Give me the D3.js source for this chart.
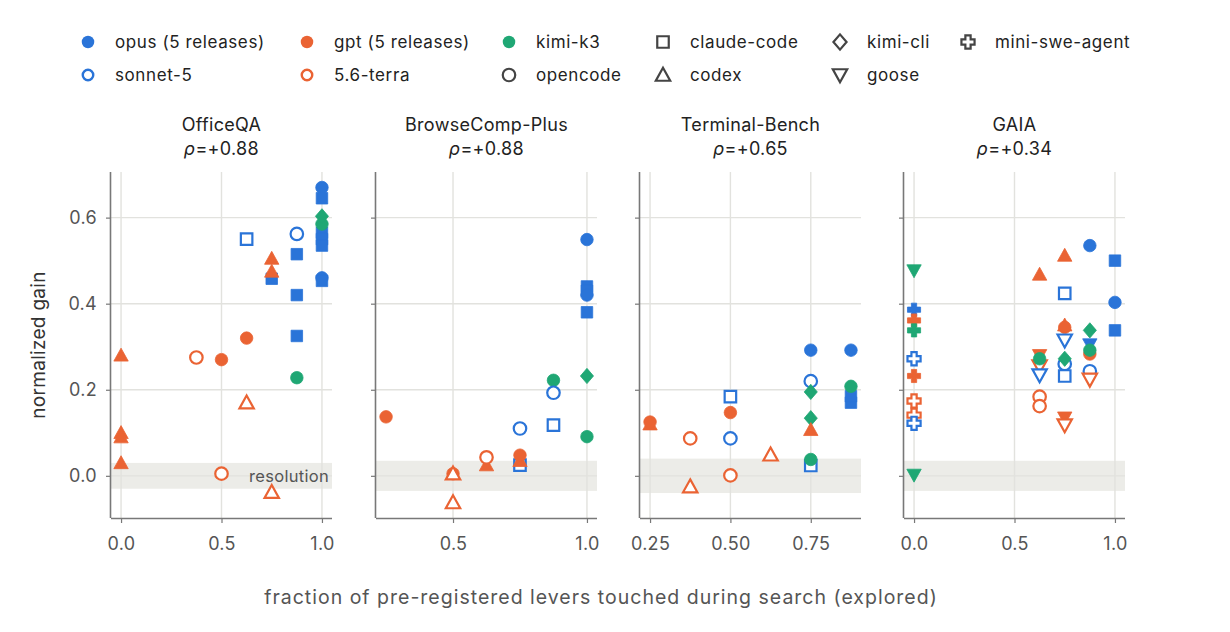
<!DOCTYPE html>
<html>
<head>
<meta charset="utf-8">
<script src="https://cdn.jsdelivr.net/npm/d3@7"></script>
<style>
  html, body { margin: 0; padding: 0; background: #ffffff; }
  svg { display: block; font-family: "Inter", "DejaVu Sans", sans-serif; }
</style>
</head>
<body>
<svg id="chart" width="1230" height="632"></svg>
<script>
// ---------------- DATA ----------------
const benchmarks = ["OfficeQA", "BrowseComp-Plus", "Terminal-Bench", "GAIA"];
const rhoValues = ["+0.88", "+0.88", "+0.65", "+0.34"];
const xTickValues = [[0, 0.5, 1.0], [0.5, 1.0], [0.25, 0.5, 0.75], [0, 0.5, 1.0]];
const xTickLabels = [["0.0", "0.5", "1.0"], ["0.5", "1.0"], ["0.25", "0.50", "0.75"], ["0.0", "0.5", "1.0"]];
const yTickValues = [0.0, 0.2, 0.4, 0.6];
const yTickLabels = ["0.0", "0.2", "0.4", "0.6"];
const resolutionBand = [0.03, 0.035, 0.04, 0.035];

const models = ["opus", "sonnet-5", "gpt", "5.6-terra", "kimi-k3"];
const modelLabels = ["opus (5 releases)", "sonnet-5", "gpt (5 releases)", "5.6-terra", "kimi-k3"];
const harnesses = ["claude-code", "opencode", "codex", "kimi-cli", "goose", "mini-swe-agent"];

// [model, harness, explored fraction, normalized gain]
const officeQA = [
  ["gpt", "codex", 0, 0.28], ["gpt", "codex", 0, 0.10], ["gpt", "codex", 0, 0.09], ["gpt", "codex", 0, 0.03],
  ["5.6-terra", "opencode", 0.375, 0.275], ["gpt", "opencode", 0.5, 0.27], ["5.6-terra", "opencode", 0.5, 0.005],
  ["gpt", "opencode", 0.625, 0.32], ["5.6-terra", "codex", 0.625, 0.17], ["sonnet-5", "claude-code", 0.625, 0.55],
  ["opus", "claude-code", 0.75, 0.458], ["gpt", "codex", 0.75, 0.505], ["gpt", "codex", 0.75, 0.475],
  ["5.6-terra", "codex", 0.75, -0.038],
  ["opus", "claude-code", 0.875, 0.515], ["opus", "claude-code", 0.875, 0.42], ["opus", "claude-code", 0.875, 0.325],
  ["sonnet-5", "opencode", 0.875, 0.562], ["kimi-k3", "opencode", 0.875, 0.228],
  ["opus", "opencode", 1.0, 0.67], ["opus", "claude-code", 1.0, 0.645], ["opus", "claude-code", 1.0, 0.565],
  ["opus", "claude-code", 1.0, 0.55], ["opus", "claude-code", 1.0, 0.535], ["opus", "opencode", 1.0, 0.46],
  ["opus", "claude-code", 1.0, 0.453], ["kimi-k3", "opencode", 1.0, 0.585], ["kimi-k3", "kimi-cli", 1.0, 0.603]
];
const browseCompPlus = [
  ["gpt", "opencode", 0.25, 0.137], ["gpt", "opencode", 0.5, 0.005], ["5.6-terra", "codex", 0.5, 0.005],
  ["5.6-terra", "codex", 0.5, -0.062], ["gpt", "codex", 0.625, 0.025], ["5.6-terra", "opencode", 0.625, 0.043],
  ["sonnet-5", "claude-code", 0.75, 0.025], ["gpt", "codex", 0.75, 0.035], ["gpt", "opencode", 0.75, 0.048],
  ["sonnet-5", "opencode", 0.75, 0.11],
  ["kimi-k3", "opencode", 0.875, 0.222], ["sonnet-5", "opencode", 0.875, 0.193], ["sonnet-5", "claude-code", 0.875, 0.118],
  ["opus", "opencode", 1.0, 0.549], ["opus", "claude-code", 1.0, 0.44], ["opus", "claude-code", 1.0, 0.43],
  ["opus", "opencode", 1.0, 0.42], ["opus", "claude-code", 1.0, 0.38],
  ["kimi-k3", "kimi-cli", 1.0, 0.232], ["kimi-k3", "opencode", 1.0, 0.091]
];
const terminalBench = [
  ["gpt", "codex", 0.25, 0.12], ["gpt", "opencode", 0.25, 0.125],
  ["5.6-terra", "opencode", 0.375, 0.087], ["5.6-terra", "codex", 0.375, -0.025],
  ["sonnet-5", "claude-code", 0.5, 0.184], ["gpt", "opencode", 0.5, 0.147], ["sonnet-5", "opencode", 0.5, 0.087],
  ["5.6-terra", "opencode", 0.5, 0.001], ["5.6-terra", "codex", 0.625, 0.049],
  ["opus", "opencode", 0.75, 0.292], ["sonnet-5", "opencode", 0.75, 0.22], ["kimi-k3", "kimi-cli", 0.75, 0.195],
  ["kimi-k3", "kimi-cli", 0.75, 0.134], ["gpt", "codex", 0.75, 0.107], ["sonnet-5", "claude-code", 0.75, 0.024],
  ["kimi-k3", "opencode", 0.75, 0.038],
  ["opus", "claude-code", 0.875, 0.17], ["opus", "claude-code", 0.875, 0.185], ["kimi-k3", "opencode", 0.875, 0.208],
  ["opus", "opencode", 0.875, 0.292]
];
const gaia = [
  ["kimi-k3", "goose", 0, 0.477], ["opus", "mini-swe-agent", 0, 0.386], ["gpt", "mini-swe-agent", 0, 0.361],
  ["kimi-k3", "mini-swe-agent", 0, 0.338], ["sonnet-5", "mini-swe-agent", 0, 0.272], ["gpt", "mini-swe-agent", 0, 0.232],
  ["5.6-terra", "mini-swe-agent", 0, 0.174], ["5.6-terra", "mini-swe-agent", 0, 0.141],
  ["sonnet-5", "mini-swe-agent", 0, 0.122], ["kimi-k3", "goose", 0, 0.002],
  ["gpt", "codex", 0.625, 0.468], ["gpt", "goose", 0.625, 0.28], ["5.6-terra", "goose", 0.625, 0.255],
  ["sonnet-5", "goose", 0.625, 0.234], ["kimi-k3", "opencode", 0.625, 0.272],
  ["5.6-terra", "opencode", 0.625, 0.184], ["5.6-terra", "opencode", 0.625, 0.162],
  ["gpt", "codex", 0.75, 0.512], ["sonnet-5", "claude-code", 0.75, 0.424], ["gpt", "codex", 0.75, 0.35],
  ["gpt", "opencode", 0.75, 0.345], ["sonnet-5", "goose", 0.75, 0.315], ["sonnet-5", "opencode", 0.75, 0.26],
  ["kimi-k3", "kimi-cli", 0.75, 0.272], ["sonnet-5", "claude-code", 0.75, 0.232],
  ["gpt", "goose", 0.75, 0.135], ["5.6-terra", "goose", 0.75, 0.118],
  ["opus", "opencode", 0.875, 0.535], ["kimi-k3", "kimi-cli", 0.875, 0.338], ["opus", "goose", 0.875, 0.305],
  ["gpt", "opencode", 0.875, 0.283], ["kimi-k3", "opencode", 0.875, 0.292], ["sonnet-5", "opencode", 0.875, 0.243],
  ["5.6-terra", "goose", 0.875, 0.224],
  ["opus", "claude-code", 1.0, 0.5], ["opus", "opencode", 1.0, 0.403], ["opus", "claude-code", 1.0, 0.338]
];
const panelData = [officeQA, browseCompPlus, terminalBench, gaia];

// ---------------- STYLE ----------------
const modelColor = {"opus": "#2a74d8", "sonnet-5": "#2a74d8", "gpt": "#ea6333", "5.6-terra": "#ea6333", "kimi-k3": "#1fa774"};
const modelOpen = {"opus": false, "sonnet-5": true, "gpt": false, "5.6-terra": true, "kimi-k3": false};

function shapePath(h, s) {
  const r = s / 2;
  switch (h) {
    case "opencode": {
      const p = d3.path(); p.arc(0, 0, r, 0, 2 * Math.PI); p.closePath(); return p.toString();
    }
    case "claude-code": {
      const a = r * 0.92;
      return `M${-a},${-a}H${a}V${a}H${-a}Z`;
    }
    case "kimi-cli": {
      const a = r * 1.22, b = r * 1.05;
      return `M0,${-a}L${b},0L0,${a}L${-b},0Z`;
    }
    case "codex": {
      const a = r * 1.15;
      return `M0,${-a}L${a},${a * 0.8}L${-a},${a * 0.8}Z`;
    }
    case "goose": {
      const a = r * 1.15;
      return `M0,${a}L${a},${-a * 0.8}L${-a},${-a * 0.8}Z`;
    }
    case "mini-swe-agent": {
      const a = r * 1.05, t = r * 0.42;
      return `M${-t},${-a}H${t}V${-t}H${a}V${t}H${t}V${a}H${-t}V${t}H${-a}V${-t}H${-t}Z`;
    }
  }
}

// ---------------- LAYOUT ----------------
const svg = d3.select("#chart");
svg.append("rect").attr("width", 1230).attr("height", 632).attr("fill", "#ffffff");

const panelLeft = [111, 376, 640, 904];
const panelWidth = 221;
const plotTop = 172, plotBottom = 518;
const gridColor = "#e2e2de";
const spineColor = "#787878";
const tickTextColor = "#555555";

const y = d3.scaleLinear().domain([-0.098, 0.706]).range([plotBottom, plotTop]);

panelData.forEach((data, i) => {
  const xs = data.map(d => d[2]);
  const lo = d3.min(xs), hi = d3.max(xs), pad = (hi - lo) * 0.05;
  const x = d3.scaleLinear().domain([lo - pad, hi + pad]).range([panelLeft[i], panelLeft[i] + panelWidth]);
  const g = svg.append("g");

  g.append("rect")
    .attr("x", panelLeft[i]).attr("width", panelWidth)
    .attr("y", y(resolutionBand[i])).attr("height", y(-resolutionBand[i]) - y(resolutionBand[i]))
    .attr("fill", "#ecece8");

  g.selectAll(".hg").data(yTickValues).enter().append("line")
    .attr("x1", panelLeft[i]).attr("x2", panelLeft[i] + panelWidth)
    .attr("y1", d => y(d)).attr("y2", d => y(d))
    .attr("stroke", gridColor).attr("stroke-width", 1.4);
  g.selectAll(".vg").data(xTickValues[i]).enter().append("line")
    .attr("x1", d => x(d)).attr("x2", d => x(d))
    .attr("y1", plotTop).attr("y2", plotBottom)
    .attr("stroke", gridColor).attr("stroke-width", 1.4);

  if (i === 0) {
    g.append("text").attr("x", panelLeft[i] + panelWidth - 3).attr("y", y(0))
      .attr("dy", "0.35em").attr("text-anchor", "end")
      .attr("font-size", 16.5).attr("letter-spacing", 0.3).attr("fill", "#555").text("resolution");
  }

  const xAxis = d3.axisBottom(x).tickValues(xTickValues[i])
    .tickFormat((d, k) => xTickLabels[i][k]).tickSize(5).tickPadding(14);
  const gx = g.append("g").attr("transform", `translate(0,${plotBottom})`).call(xAxis);
  gx.select(".domain").attr("stroke", spineColor).attr("stroke-width", 1.6)
    .attr("d", `M${panelLeft[i]},0.5H${panelLeft[i] + panelWidth}`);
  gx.selectAll(".tick line").attr("stroke", spineColor).attr("stroke-width", 1.2);
  gx.selectAll(".tick text").attr("font-size", 18).attr("fill", tickTextColor)
    .attr("font-family", "Inter, sans-serif").attr("letter-spacing", 0.3);

  const yAxis = d3.axisLeft(y).tickValues(yTickValues)
    .tickFormat((d, k) => i === 0 ? yTickLabels[k] : "").tickSize(5).tickPadding(9);
  const gy = g.append("g").attr("transform", `translate(${panelLeft[i]},0)`).call(yAxis);
  gy.select(".domain").attr("stroke", spineColor).attr("stroke-width", 1.6)
    .attr("d", `M-0.5,${plotTop}V${plotBottom}`);
  gy.selectAll(".tick line").attr("stroke", spineColor).attr("stroke-width", 1.2);
  gy.selectAll(".tick text").attr("font-size", 18).attr("fill", tickTextColor)
    .attr("font-family", "Inter, sans-serif").attr("letter-spacing", 0.3);

  const cx = panelLeft[i] + panelWidth / 2;
  g.append("text").attr("x", cx).attr("y", 131).attr("text-anchor", "middle")
    .attr("font-size", 18).attr("letter-spacing", 0.3).attr("fill", "#222").text(benchmarks[i]);
  const rt = g.append("text").attr("x", cx).attr("y", 155).attr("text-anchor", "middle")
    .attr("font-size", 18).attr("letter-spacing", 0.3).attr("fill", "#222");
  rt.append("tspan").attr("font-style", "italic").text("ρ");
  rt.append("tspan").text("=" + rhoValues[i]);

  g.selectAll(".pt").data(data).enter().append("path")
    .attr("transform", d => `translate(${x(d[2])},${y(d[3])})`)
    .attr("d", d => shapePath(d[1], 12.5))
    .attr("fill", d => modelOpen[d[0]] ? "#ffffff" : modelColor[d[0]])
    .attr("stroke", d => modelColor[d[0]])
    .attr("stroke-width", d => modelOpen[d[0]] ? 2.2 : 0.8)
    .attr("stroke-linejoin", "miter");
});

svg.append("text").attr("transform", "translate(45,345) rotate(-90)")
  .attr("text-anchor", "middle").attr("font-size", 19).attr("letter-spacing", 0.3)
  .attr("fill", "#333").text("normalized gain");
svg.append("text").attr("x", 601).attr("y", 604).attr("text-anchor", "middle")
  .attr("font-size", 19.5).attr("letter-spacing", 1.0).attr("fill", "#555")
  .text("fraction of pre-registered levers touched during search (explored)");

const legendItems = [
  {kind: "model", key: "opus", label: modelLabels[0], x: 88, y: 42},
  {kind: "model", key: "gpt", label: modelLabels[2], x: 307, y: 42},
  {kind: "model", key: "kimi-k3", label: modelLabels[4], x: 509, y: 42},
  {kind: "harness", key: "claude-code", label: "claude-code", x: 663, y: 42},
  {kind: "harness", key: "kimi-cli", label: "kimi-cli", x: 840, y: 42},
  {kind: "harness", key: "mini-swe-agent", label: "mini-swe-agent", x: 968, y: 42},
  {kind: "model", key: "sonnet-5", label: modelLabels[1], x: 88, y: 75},
  {kind: "model", key: "5.6-terra", label: modelLabels[3], x: 307, y: 75},
  {kind: "harness", key: "opencode", label: "opencode", x: 509, y: 75},
  {kind: "harness", key: "codex", label: "codex", x: 663, y: 75},
  {kind: "harness", key: "goose", label: "goose", x: 840, y: 75}
];
const lg = svg.append("g");
legendItems.forEach(it => {
  if (it.kind === "model") {
    lg.append("path").attr("transform", `translate(${it.x},${it.y})`)
      .attr("d", shapePath("opencode", modelOpen[it.key] ? 10.5 : 12.5))
      .attr("fill", modelOpen[it.key] ? "#fff" : modelColor[it.key])
      .attr("stroke", modelColor[it.key]).attr("stroke-width", modelOpen[it.key] ? 2.4 : 0);
  } else {
    lg.append("path").attr("transform", `translate(${it.x},${it.y})`)
      .attr("d", shapePath(it.key, 12.5))
      .attr("fill", "#fff").attr("stroke", "#444").attr("stroke-width", 2.2);
  }
  lg.append("text").attr("x", it.x + 27).attr("y", it.y).attr("dy", "0.35em")
    .attr("font-size", 17).attr("letter-spacing", 0.6).attr("fill", "#222").text(it.label);
});
</script>
</body>
</html>
